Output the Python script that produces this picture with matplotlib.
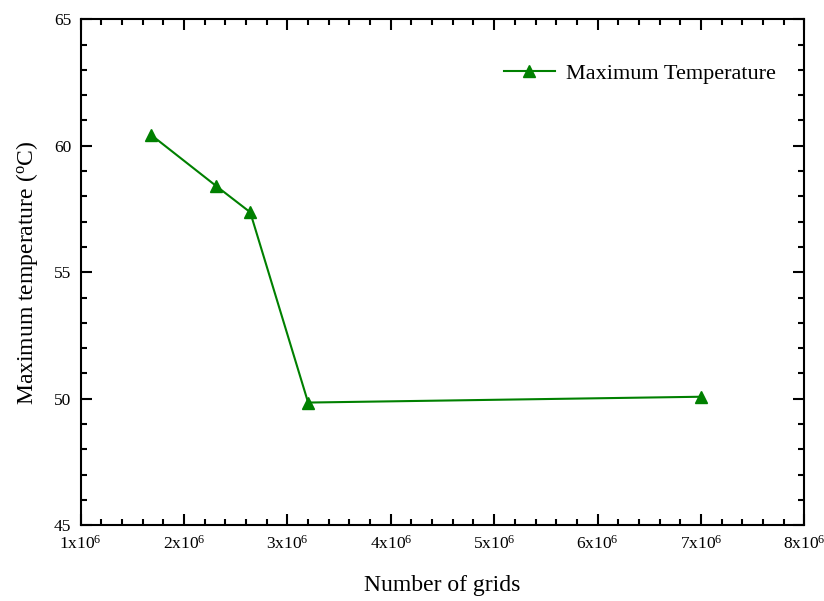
import matplotlib
matplotlib.use("Agg")
import matplotlib.pyplot as plt
from matplotlib.ticker import FuncFormatter, MultipleLocator

# grid-independence study: max temperature vs mesh size
grid_counts = [1.68e6, 2.31e6, 2.64e6, 3.20e6, 7.00e6]
max_temps = [60.43, 58.41, 57.37, 49.85, 50.08]
series_label = "Maximum Temperature"

plt.rcParams["font.family"] = ["Liberation Serif", "DejaVu Serif"]
plt.rcParams["mathtext.fontset"] = "custom"
plt.rcParams["mathtext.rm"] = "Liberation Serif"
plt.rcParams["mathtext.it"] = "Liberation Serif:italic"


def sci_label(v, pos):
    return f"{int(round(v / 1e6))}x10$^{{6}}$"


fig = plt.figure(figsize=(8.24, 6.01), dpi=100)
ax = fig.add_axes([0.098, 0.126, 0.878, 0.842])

ax.plot(grid_counts, max_temps, color="green", linewidth=1.5,
        marker="^", markersize=9, label=series_label)

ax.set_xlim(1e6, 8e6)
ax.set_ylim(45, 65)
ax.xaxis.set_major_locator(MultipleLocator(1e6))
ax.xaxis.set_minor_locator(MultipleLocator(0.2e6))
ax.yaxis.set_major_locator(MultipleLocator(5))
ax.yaxis.set_minor_locator(MultipleLocator(1))
ax.xaxis.set_major_formatter(FuncFormatter(sci_label))

ax.tick_params(which="both", direction="in", top=True, right=True,
               labelsize=12.5, width=1.5)
ax.tick_params(which="major", length=8, pad=7)
ax.tick_params(which="minor", length=4)
for side in ax.spines.values():
    side.set_linewidth(1.5)

ax.set_xlabel("Number of grids", fontsize=17, labelpad=16)
ax.set_ylabel(r"Maximum temperature ($^{\mathrm{o}}$C)", fontsize=17, labelpad=10)

ax.legend(loc="center right", bbox_to_anchor=(0.976, 0.892), frameon=False,
          fontsize=16, handlelength=2.3, handletextpad=0.5, borderpad=0)

fig.savefig("out.png", dpi=100)
plt.close(fig)
